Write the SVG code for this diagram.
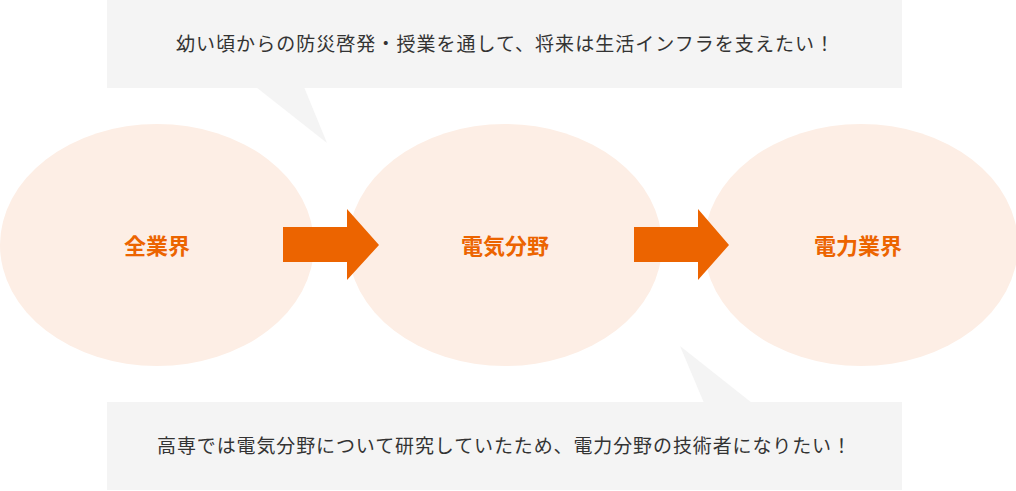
<svg xmlns="http://www.w3.org/2000/svg" width="1016" height="491" viewBox="0 0 1016 491">
<style>
.bubble{fill:#f4f4f4}
.node{fill:#fdeee5}
.arrow{fill:#ec6400}
.btxt{font-family:"Noto Sans CJK JP","Noto Sans",sans-serif;font-size:19px;fill:#333333}
.ltxt{font-family:"Noto Sans CJK JP","Noto Sans",sans-serif;font-size:22px;font-weight:bold;fill:#ec6400;text-anchor:middle}
</style>
<rect width="1016" height="491" fill="#ffffff"/>
<g id="node-zengyokai">
<ellipse class="node" cx="157" cy="245" rx="157" ry="121"/>
<text class="ltxt" x="157" y="254">全業界</text>
</g>
<g id="node-denki">
<ellipse class="node" cx="505" cy="245" rx="157" ry="121"/>
<text class="ltxt" x="505" y="254">電気分野</text>
</g>
<g id="node-denryoku">
<ellipse class="node" cx="861" cy="245" rx="157" ry="121"/>
<text class="ltxt" x="858" y="254">電力業界</text>
</g>
<g id="connectors">
<polygon class="arrow" points="283,227 347,227 347,209 379,245 347,280 347,262 283,262"/>
<polygon class="arrow" points="634,227 698,227 698,209 729,245 698,280 698,262 634,262"/>
</g>
<g id="bubble-top">
<rect class="bubble" x="107" y="0" width="795" height="88"/>
<polygon class="bubble" points="256,87 304,87 327,143"/>
<text class="btxt" x="176" y="50.5" textLength="658" lengthAdjust="spacing">幼い頃からの防災啓発・授業を通して、将来は生活インフラを支えたい！</text>
</g>
<g id="bubble-bottom">
<rect class="bubble" x="107" y="402" width="795" height="88"/>
<polygon class="bubble" points="680,346 704,403 752,403"/>
<text class="btxt" x="157" y="453" textLength="694" lengthAdjust="spacing">高専では電気分野について研究していたため、電力分野の技術者になりたい！</text>
</g>
</svg>
